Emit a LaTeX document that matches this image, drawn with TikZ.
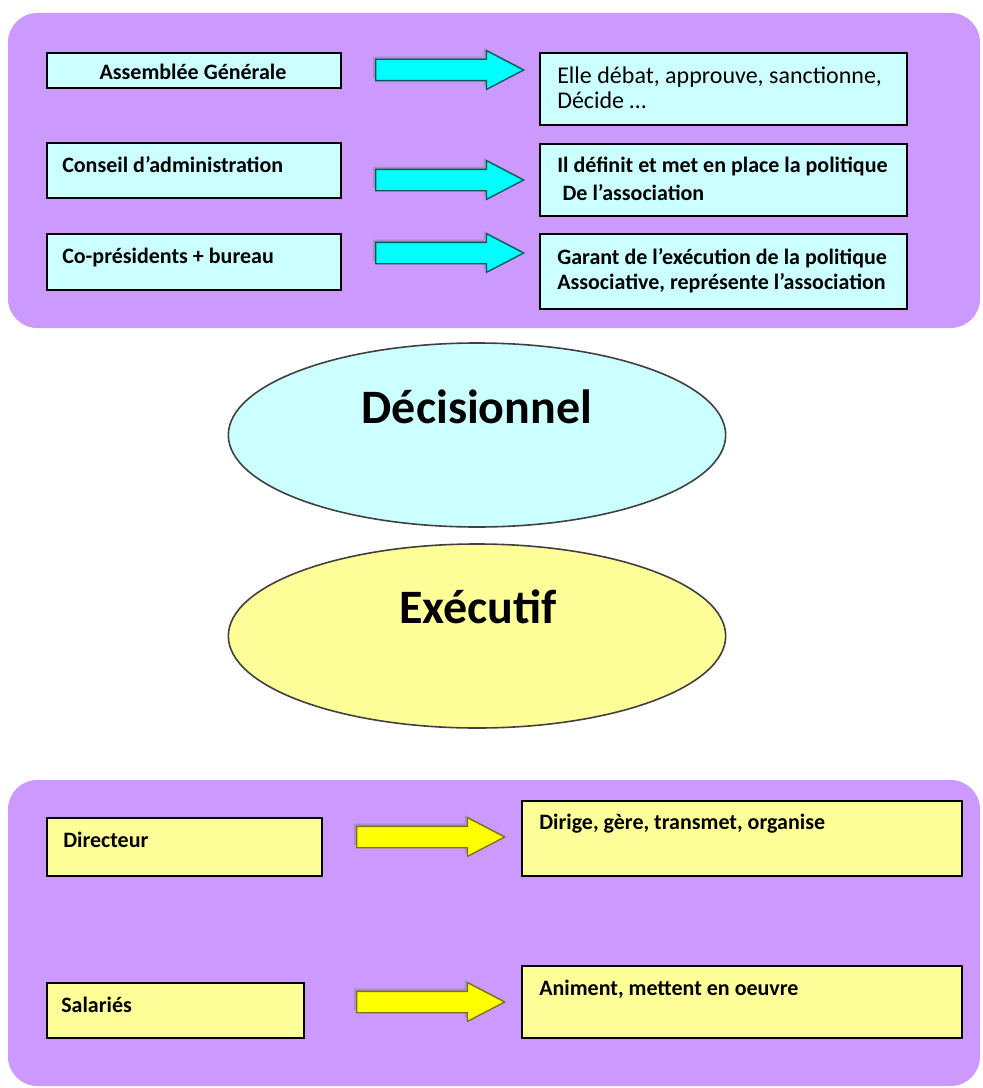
\documentclass[tikz,border=0pt]{standalone}
\usepackage{fontspec}
\setmainfont{Carlito}
\usepackage{xcolor}
\usepackage{tikz}
\usetikzlibrary{fit,shadows,shapes.arrows,shapes.geometric}

\definecolor{panelpurple}{HTML}{CC99FF}
\definecolor{lightcyan}{HTML}{CCFFFF}
\definecolor{lightyellow}{HTML}{FFFF99}
\definecolor{arrowcyan}{HTML}{00FFFF}
\definecolor{arrowyellow}{HTML}{FFFF00}

\begin{document}
\begin{tikzpicture}[x=0.75pt, y=-0.75pt,
  panel/.style={fill=panelpurple, rounded corners=22pt},
  box/.style={draw=black, line width=2pt, inner sep=0pt},
  cyanbox/.style={box, fill=lightcyan},
  yellowbox/.style={box, fill=lightyellow},
  boxtext/.style={font=\fontsize{16.5}{21}\selectfont\bfseries, inner sep=0pt, anchor=west, align=left},
  blockarrow/.style={single arrow, anchor=tail, minimum height=111pt, inner sep=0pt, inner ysep=7.5pt,
    single arrow head extend=6.5pt, single arrow tip angle=55, line width=1pt,
    drop shadow={shadow xshift=-2pt, shadow yshift=2pt, fill=black!50, opacity=0.45}},
  cyanarrow/.style={blockarrow, fill=arrowcyan, draw=teal!70!black},
  yellowarrow/.style={blockarrow, fill=arrowyellow, draw=olive!80!black},
  bubble/.style={ellipse, draw=black!75, line width=1.2pt, minimum width=373pt, minimum height=138pt},
  bubbletext/.style={font=\fontsize{36}{40}\selectfont\bfseries}]
  \useasboundingbox (0,0) rectangle (982,1088);

  % Top panel
  \fill[panel] (8,13) rectangle (980,328);
  \node[cyanbox, fit={(47,53) (341,88)}] (ag) {};
  \node[cyanbox, fit={(47,143) (341,198)}] (ca) {};
  \node[cyanbox, fit={(47,234) (341,290)}] (cp) {};
  \node[cyanbox, fit={(540,53) (907,125)}] (agrole) {};
  \node[cyanbox, fit={(540,144) (907,216)}] (carole) {};
  \node[cyanbox, fit={(540,234) (907,309)}] (cprole) {};
  \node[boxtext, anchor=center] (agtext) at (193,72) {Assemblée Générale};
  \node[boxtext] (catext) at (62,165) {Conseil d’administration};
  \node[boxtext] (cptext) at (62,258) {Co-présidents + bureau};
  \node[boxtext, font=\fontsize{18}{19}\selectfont] (agroletext) at (557,88)
    {Elle débat, approuve, sanctionne,\\Décide …};
  \node[boxtext, font=\fontsize{16.5}{21}\selectfont\bfseries] (caroletext) at (557,179)
    {Il définit et met en place la politique\\\hspace*{4pt}De l’association};
  \node[boxtext, font=\fontsize{16.5}{19}\selectfont\bfseries] (cproletext) at (557,271)
    {Garant de l’exécution de la politique\\Associative, représente l’association};
  % Arrows between boxes
  \node[cyanarrow] (agarrow) at (375,70) {};
  \node[cyanarrow] (caarrow) at (375,180) {};
  \node[cyanarrow] (cparrow) at (375,253) {};

  % Ellipses
  \node[bubble, fill=lightcyan] (dec) at (477,435) {};
  \node[bubbletext] (dectext) at (477,407) {Décisionnel};
  \node[bubble, fill=lightyellow] (exe) at (477,636) {};
  \node[bubbletext] (exetext) at (478,607) {Exécutif};

  % Bottom panel
  \fill[panel] (8,780) rectangle (980,1086);
  \node[yellowbox, fit={(47,818) (322,876)}] (dir) {};
  \node[yellowbox, fit={(47,983) (304,1038)}] (sal) {};
  \node[yellowbox, fit={(522,801) (962,876)}] (dirrole) {};
  \node[yellowbox, fit={(522,966) (962,1038)}] (salrole) {};
  \node[boxtext] (dirtext) at (63,840) {Directeur};
  \node[boxtext] (saltext) at (61,1005) {Salariés};
  \node[boxtext] (diroletext) at (539,824) {Dirige, gère, transmet, organise};
  \node[boxtext] (saroletext) at (539,989) {Animent, mettent en oeuvre};
  \node[yellowarrow] (dirarrow) at (356,837) {};
  \node[yellowarrow] (salarrow) at (356,1002) {};
\end{tikzpicture}
\end{document}
